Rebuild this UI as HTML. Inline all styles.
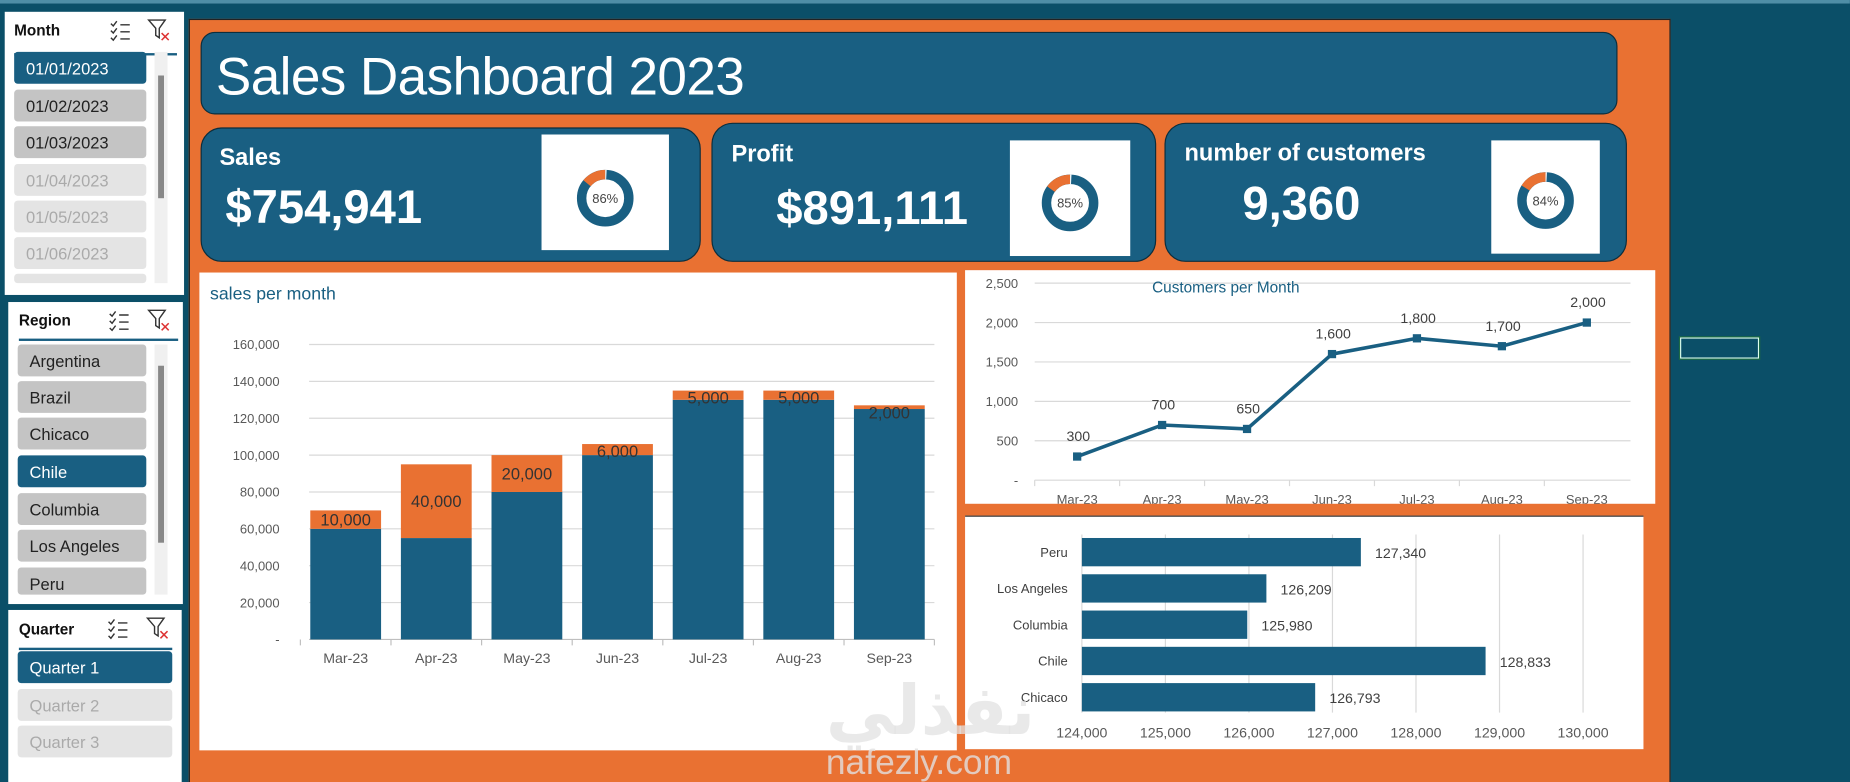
<!DOCTYPE html>
<html><head><meta charset="utf-8"><style>
*{margin:0;padding:0;box-sizing:border-box}
body{width:1850px;height:782px;overflow:hidden;background:#0b4f68;font-family:"Liberation Sans Narrow","Liberation Sans",sans-serif}
#s{position:absolute;left:0;top:0;width:1568px;height:663px;transform:scale(1.1798);transform-origin:0 0;overflow:hidden}
.a{position:absolute}
.sl{background:#fff}
.st{position:absolute;font-weight:bold;font-size:13px;color:#111}
.it{position:absolute;height:27px;border-radius:3px;background:#c4c4c4;color:#222;font-size:14px;padding:6px 0 0 10px}
.sel{background:#195f82;color:#fff}
.dis{background:#e4e4e4;color:#aaa}
.card{position:absolute;background:#195f82;border:1.5px solid #0c2e3d;border-radius:18px}
.lab{position:absolute;color:#fff;font-weight:bold;font-size:20px}
.val{position:absolute;color:#fff;font-weight:bold;font-size:40px}
.wb{position:absolute;background:#fff}
svg text{font-family:"Liberation Sans Narrow","Liberation Sans",sans-serif}
</style></head><body>
<div id="s">
<div class="a" style="left:0;top:0;width:1568px;height:3px;background:#4f8ea6"></div>

<!-- Month slicer -->
<div class="a sl" style="left:4px;top:10px;width:152px;height:240px">
 <div class="st" style="left:8px;top:8px">Month</div>
 <svg class="a" style="left:88px;top:6px" width="20" height="20"><path d="M2 4l2 2 3-4M2 10l2 2 3-4M2 16l2 2 3-4M10 5h8M10 11h8M10 17h8" stroke="#333" fill="none" stroke-width="1.2"/></svg>
 <svg class="a" style="left:120px;top:5px" width="22" height="22"><path d="M2 2h14l-5 7v8l-3-2v-6z" stroke="#333" fill="none" stroke-width="1.2"/><path d="M13 13l6 6M19 13l-6 6" stroke="#d33" stroke-width="1.3"/></svg>
 <div class="a" style="left:8px;top:35px;width:138px;height:1.5px;background:#195f82"></div>
 <div class="it sel" style="left:8px;top:34px;width:112px">01/01/2023</div>
 <div class="it" style="left:8px;top:66px;width:112px">01/02/2023</div>
 <div class="it" style="left:8px;top:97px;width:112px">01/03/2023</div>
 <div class="it dis" style="left:8px;top:129px;width:112px">01/04/2023</div>
 <div class="it dis" style="left:8px;top:160px;width:112px">01/05/2023</div>
 <div class="it dis" style="left:8px;top:191px;width:112px">01/06/2023</div>
 <div class="it dis" style="left:8px;top:222px;width:112px;height:8px"></div>
 <div class="a" style="left:127px;top:34px;width:11px;height:196px;background:#f0f0f0"><div class="a" style="left:3px;top:20px;width:5px;height:104px;background:#888"></div></div>
</div>

<!-- Region slicer -->
<div class="a sl" style="left:7px;top:256px;width:148px;height:256px">
 <div class="st" style="left:9px;top:8px">Region</div>
 <svg class="a" style="left:84px;top:6px" width="20" height="20"><path d="M2 4l2 2 3-4M2 10l2 2 3-4M2 16l2 2 3-4M10 5h8M10 11h8M10 17h8" stroke="#333" fill="none" stroke-width="1.2"/></svg>
 <svg class="a" style="left:117px;top:5px" width="22" height="22"><path d="M2 2h14l-5 7v8l-3-2v-6z" stroke="#333" fill="none" stroke-width="1.2"/><path d="M13 13l6 6M19 13l-6 6" stroke="#d33" stroke-width="1.3"/></svg>
 <div class="a" style="left:9px;top:31px;width:135px;height:1.5px;background:#195f82"></div>
 <div class="it" style="left:8px;top:36px;width:109px">Argentina</div>
 <div class="it" style="left:8px;top:67px;width:109px">Brazil</div>
 <div class="it" style="left:8px;top:98px;width:109px">Chicaco</div>
 <div class="it sel" style="left:8px;top:130px;width:109px">Chile</div>
 <div class="it" style="left:8px;top:162px;width:109px">Columbia</div>
 <div class="it" style="left:8px;top:193px;width:109px">Los Angeles</div>
 <div class="it" style="left:8px;top:225px;width:109px;height:23px">Peru</div>
 <div class="a" style="left:124px;top:36px;width:11px;height:212px;background:#f0f0f0"><div class="a" style="left:3px;top:18px;width:5px;height:150px;background:#888"></div></div>
</div>

<!-- Quarter slicer -->
<div class="a sl" style="left:7px;top:517px;width:147px;height:146px">
 <div class="st" style="left:9px;top:9px">Quarter</div>
 <svg class="a" style="left:83px;top:6px" width="20" height="20"><path d="M2 4l2 2 3-4M2 10l2 2 3-4M2 16l2 2 3-4M10 5h8M10 11h8M10 17h8" stroke="#333" fill="none" stroke-width="1.2"/></svg>
 <svg class="a" style="left:116px;top:5px" width="22" height="22"><path d="M2 2h14l-5 7v8l-3-2v-6z" stroke="#333" fill="none" stroke-width="1.2"/><path d="M13 13l6 6M19 13l-6 6" stroke="#d33" stroke-width="1.3"/></svg>
 <div class="a" style="left:9px;top:32px;width:130px;height:1.5px;background:#195f82"></div>
 <div class="it sel" style="left:8px;top:35px;width:131px">Quarter 1</div>
 <div class="it dis" style="left:8px;top:67px;width:131px">Quarter 2</div>
 <div class="it dis" style="left:8px;top:98px;width:131px">Quarter 3</div>
</div>

<!-- Orange panel -->
<div class="a" style="left:160px;top:16px;width:1256px;height:660px;background:#e97132;border:1.5px solid #222;border-bottom:none"></div>

<div class="card" style="left:170px;top:27px;width:1201px;height:70px;border-radius:12px">
 <div class="a" style="left:12px;top:11px;color:#fff;font-size:45px;font-family:'Liberation Sans',sans-serif;letter-spacing:-0.5px">Sales Dashboard 2023</div>
</div>

<div class="card" style="left:170px;top:108px;width:424px;height:114px">
 <div class="lab" style="left:15px;top:14px">Sales</div>
 <div class="val" style="left:20px;top:45px">$754,941</div>
 <div class="wb" style="left:288px;top:5px;width:108px;height:98px"><svg width="108" height="98" id="d1"></svg></div>
</div>
<div class="card" style="left:603px;top:104px;width:377px;height:118px">
 <div class="lab" style="left:16px;top:15px">Profit</div>
 <div class="val" style="left:54px;top:50px">$891,111</div>
 <div class="wb" style="left:252px;top:14px;width:102px;height:98px"><svg width="102" height="98" id="d2"></svg></div>
</div>
<div class="card" style="left:987px;top:104px;width:392px;height:118px">
 <div class="lab" style="left:16px;top:14px">number of customers</div>
 <div class="val" style="left:65px;top:46px">9,360</div>
 <div class="wb" style="left:276px;top:14px;width:92px;height:96px"><svg width="92" height="96" id="d3"></svg></div>
</div>

<div class="a" style="left:169px;top:231px;width:642px;height:405px;background:#fff">
 <svg id="bar" width="642" height="405"></svg>
</div>
<div class="a" style="left:818px;top:229px;width:585px;height:198px;background:#fff;overflow:hidden">
 <svg id="line" width="585" height="205"></svg>
</div>
<div class="a" style="left:818px;top:437px;width:575px;height:198px;background:#fff;border-top:1.5px solid #333">
 <svg id="hbar" width="575" height="198"></svg>
</div>

<div class="a" style="left:700px;top:555px;font-size:58px;color:rgba(225,225,225,0.75);font-family:'Noto Sans CJK SC','DejaVu Sans',sans-serif;font-weight:bold">نفذلي</div>
<div class="a" style="left:700px;top:630px;font-size:30px;color:rgba(225,225,225,0.8);font-family:'Liberation Sans',sans-serif">nafezly.com</div>

<div class="a" style="left:1424px;top:286px;width:67px;height:18px;border:1.5px solid #dfe;outline:1px solid #1d6b45"></div>
</div>

<script>
const NS='http://www.w3.org/2000/svg';
function mk(p,t,a,txt){const e=document.createElementNS(NS,t);for(const k in a)e.setAttribute(k,a[k]);if(txt!==undefined)e.textContent=txt;p.appendChild(e);return e;}
const fmt=v=>v.toLocaleString('en-US');

// donuts
const donutPct=[86,85,84];
const donutIds=['d1','d2','d3'];
const donutC=[[54,54],[51,53],[46,51]];
donutIds.forEach((id,i)=>{
 const s=document.getElementById(id);const r=20,c=2*Math.PI*r;const [cx,cy]=donutC[i];
 const ring=mk(s,'circle',{cx:cx,cy:cy,r:r,fill:'none',stroke:'#195f82','stroke-width':8});
 
 
 const rest=mk(s,'circle',{cx:cx,cy:cy,r:r,fill:'none',stroke:'#e97132','stroke-width':8,'stroke-dasharray':(c*(100-donutPct[i])/100)+' '+c,transform:`rotate(-90 ${cx} ${cy}) scale(1,-1) translate(0 ${-2*cy})`});
 
 
 mk(s,'circle',{cx:cx,cy:cy,r:r,fill:'none',stroke:'#fff','stroke-width':8,'stroke-dasharray':'1 '+(c-1),transform:`rotate(-90 ${cx} ${cy})`});
 const t=mk(s,'text',{x:cx,y:cy+4,'text-anchor':'middle','font-size':11,fill:'#444'},donutPct[i]+'%');
 
 
});

// bar chart
const months=['Mar-23','Apr-23','May-23','Jun-23','Jul-23','Aug-23','Sep-23'];
const baseVals=[60000,55000,80000,100000,130000,130000,125000];
const topVals=[10000,40000,20000,6000,5000,5000,2000];
const barTicks=[0,20000,40000,60000,80000,100000,120000,140000,160000];
(function(){
 const s=document.getElementById('bar');
 const y=v=>311-v*250/160000, x=i=>124+i*76.8;
 const tt=mk(s,'text',{x:9,y:23,'font-size':15,fill:'#195f82'},'sales per month');
 
 
 barTicks.forEach(v=>{
  if(v>0)mk(s,'line',{x1:93,x2:623,y1:y(v),y2:y(v),stroke:'#d9d9d9'});
  const t=mk(s,'text',{x:68,y:y(v)+4,'text-anchor':'end','font-size':11,fill:'#595959'},v?fmt(v):'-');
  
  
 });
 mk(s,'line',{x1:93,x2:623,y1:y(0),y2:y(0),stroke:'#bfbfbf'});
 months.forEach((m,i)=>{
  mk(s,'line',{x1:x(i)-38.4,x2:x(i)-38.4,y1:y(0),y2:y(0)+5,stroke:'#bfbfbf'});
  const b=mk(s,'rect',{x:x(i)-30,width:60,y:y(baseVals[i]),height:y(0)-y(baseVals[i]),fill:'#195f82'});
  
  
  const t=mk(s,'rect',{x:x(i)-30,width:60,y:y(baseVals[i]+topVals[i]),height:y(baseVals[i])-y(baseVals[i]+topVals[i]),fill:'#e97132'});
  
  
  const h=y(baseVals[i])-y(baseVals[i]+topVals[i]);
  const l=mk(s,'text',{x:x(i),y:y(baseVals[i]+topVals[i])+Math.max(h/2+5,11),'text-anchor':'middle','font-size':14,fill:'#333'},fmt(topVals[i]));
  
  
  const xl=mk(s,'text',{x:x(i),y:331,'text-anchor':'middle','font-size':12,fill:'#595959'},m);
  
  
 });
 mk(s,'line',{x1:623,x2:623,y1:y(0),y2:y(0)+5,stroke:'#bfbfbf'});
})();

// line chart
const custVals=[300,700,650,1600,1800,1700,2000];
const lineTicks=[0,500,1000,1500,2000,2500];
(function(){
 const s=document.getElementById('line');
 const y=v=>178-v*167/2500, x=i=>95+i*72;
 lineTicks.forEach(v=>{
  if(v>0)mk(s,'line',{x1:59,x2:564,y1:y(v),y2:y(v),stroke:'#d9d9d9'});
  const t=mk(s,'text',{x:45,y:y(v)+4,'text-anchor':'end','font-size':11,fill:'#595959'},v?fmt(v):'-');
  
  
 });
 mk(s,'line',{x1:59,x2:564,y1:y(0),y2:y(0),stroke:'#d9d9d9'});
 const tt=mk(s,'text',{x:221,y:19,'text-anchor':'middle','font-size':13,fill:'#195f82'},'Customers per Month');
 
 
 const pl=mk(s,'polyline',{points:custVals.map((v,i)=>x(i)+','+y(v)).join(' '),fill:'none',stroke:'#195f82','stroke-width':3});
 
 
 months.forEach((m,i)=>{
  mk(s,'line',{x1:x(i)-36,x2:x(i)-36,y1:y(0),y2:y(0)+5,stroke:'#d9d9d9'});
  const p=mk(s,'rect',{x:x(i)-3.5,y:y(custVals[i])-3.5,width:7,height:7,fill:'#195f82'});
  
  
  const l=mk(s,'text',{x:x(i)+1,y:y(custVals[i])-13,'text-anchor':'middle','font-size':12,fill:'#404040'},fmt(custVals[i]));
  
  
  const xl=mk(s,'text',{x:x(i),y:198,'text-anchor':'middle','font-size':11,fill:'#595959'},m);
  
  
 });
})();

// horizontal bar
const regions=['Peru','Los Angeles','Columbia','Chile','Chicaco'];
const regionVals=[127340,126209,125980,128833,126793];
const hTicks=[124000,125000,126000,127000,128000,129000,130000];
(function(){
 const s=document.getElementById('hbar');
 const x=v=>99+(v-124000)*70.8/1000, y=i=>30+i*30.75;
 hTicks.forEach(v=>{
  mk(s,'line',{x1:x(v),x2:x(v),y1:15,y2:166,stroke:'#d9d9d9'});
  const t=mk(s,'text',{x:x(v),y:187,'text-anchor':'middle','font-size':12,fill:'#595959'},fmt(v));
  
  
 });
 regions.forEach((r,i)=>{
  const b=mk(s,'rect',{x:x(124000),y:y(i)-12,width:x(regionVals[i])-x(124000),height:24,fill:'#195f82'});
  
  
  const c=mk(s,'text',{x:87,y:y(i)+4,'text-anchor':'end','font-size':11,fill:'#404040'},r);
  
  
  const l=mk(s,'text',{x:x(regionVals[i])+12,y:y(i)+5,'font-size':12,fill:'#404040'},fmt(regionVals[i]));
  
  
 });
})();
</script>
</body></html>
